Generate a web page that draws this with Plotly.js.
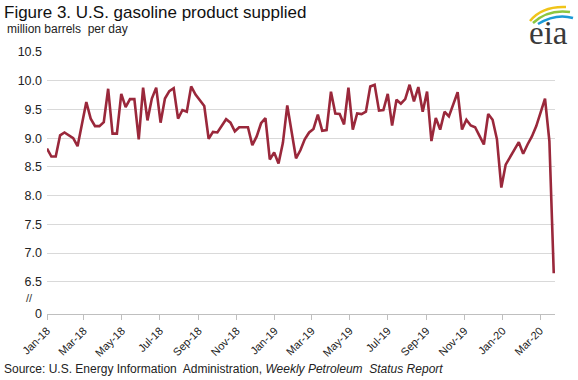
<!DOCTYPE html>
<html>
<head>
<meta charset="utf-8">
<script src="https://cdn.plot.ly/plotly-3.0.1.min.js"></script>
<style>html,body{margin:0;padding:0;background:#fff;}#chart{width:578px;height:380px;}</style>
</head>
<body>
<div id="chart"></div>
<script>
// Weekly dates (week ending)
const weeks = [
"2018-01-05","2018-01-12","2018-01-19","2018-01-26","2018-02-02","2018-02-09","2018-02-16","2018-02-23",
"2018-03-02","2018-03-09","2018-03-16","2018-03-23","2018-03-30","2018-04-06","2018-04-13","2018-04-20","2018-04-27",
"2018-05-04","2018-05-11","2018-05-18","2018-05-25","2018-06-01","2018-06-08","2018-06-15","2018-06-22","2018-06-29",
"2018-07-06","2018-07-13","2018-07-20","2018-07-27","2018-08-03","2018-08-10","2018-08-17","2018-08-24","2018-08-31",
"2018-09-07","2018-09-14","2018-09-21","2018-09-28","2018-10-05","2018-10-12","2018-10-19","2018-10-26",
"2018-11-02","2018-11-09","2018-11-16","2018-11-23","2018-11-30","2018-12-07","2018-12-14","2018-12-21","2018-12-28",
"2019-01-04","2019-01-11","2019-01-18","2019-01-25","2019-02-01","2019-02-08","2019-02-15","2019-02-22",
"2019-03-01","2019-03-08","2019-03-15","2019-03-22","2019-03-29","2019-04-05","2019-04-12","2019-04-19","2019-04-26",
"2019-05-03","2019-05-10","2019-05-17","2019-05-24","2019-05-31","2019-06-07","2019-06-14","2019-06-21","2019-06-28",
"2019-07-05","2019-07-12","2019-07-19","2019-07-26","2019-08-02","2019-08-09","2019-08-16","2019-08-23","2019-08-30",
"2019-09-06","2019-09-13","2019-09-20","2019-09-27","2019-10-04","2019-10-11","2019-10-18","2019-10-25",
"2019-11-01","2019-11-08","2019-11-15","2019-11-22","2019-11-29","2019-12-06","2019-12-13","2019-12-20","2019-12-27",
"2020-01-03","2020-01-10","2020-01-17","2020-01-24","2020-01-31","2020-02-07","2020-02-14","2020-02-21","2020-02-28",
"2020-03-06","2020-03-13","2020-03-20","2020-03-27"
];
// Gasoline product supplied, million barrels per day
const supplied = [
8.82,8.68,8.68,9.05,9.10,9.05,9.00,8.86,
9.25,9.63,9.34,9.21,9.21,9.28,9.86,9.08,9.08,
9.77,9.54,9.68,9.68,8.98,9.88,9.31,9.69,9.88,
9.27,9.69,9.82,9.87,9.34,9.49,9.46,9.90,9.76,
9.65,9.56,8.99,9.11,9.10,9.21,9.33,9.27,
9.12,9.19,9.19,9.19,8.88,9.03,9.26,9.35,8.63,
8.75,8.56,8.92,9.57,9.12,8.65,8.79,8.98,
9.10,9.16,9.41,9.13,9.14,9.81,9.43,9.42,9.24,
9.88,9.15,9.43,9.42,9.46,9.90,9.93,9.48,9.49,
9.77,9.22,9.67,9.60,9.68,9.93,9.64,9.89,9.46,
9.81,8.95,9.35,9.15,9.46,9.38,9.60,9.80,
9.15,9.32,9.22,9.19,9.04,8.89,9.42,9.32,8.98,
8.14,8.54,8.66,8.80,8.93,8.73,8.89,9.03,9.21,
9.44,9.69,8.95,6.65
];
// Y axis (broken: bottom gridline labelled 0)
const yTickVals = [5.94,6.5,7.0,7.5,8.0,8.5,9.0,9.5,10.0,10.5];
const yTickText = ["0","6.5","7.0","7.5","8.0","8.5","9.0","9.5","10.0","10.5"];

const W = 578, H = 380;
const M = {l:47, r:23, t:52, b:66};
const PW = W - M.l - M.r, PH = H - M.t - M.b;
const px = x => (x - M.l) / PW;
const py = y => (H - M.b - y) / PH;
const FONT = "Liberation Sans, Arial, sans-serif";

function arc(x0,y0,cx,cy,x1,y1){
  return `M ${px(x0)} ${py(y0)} Q ${px(cx)} ${py(cy)} ${px(x1)} ${py(y1)}`;
}

const trace = {
  x: weeks, y: supplied, type: 'scatter', mode: 'lines',
  line: {color: '#9a283b', width: 2.6},
  hoverinfo: 'skip'
};

const layout = {
  width: W, height: H,
  margin: M,
  paper_bgcolor: '#fff', plot_bgcolor: '#fff',
  showlegend: false,
  font: {family: FONT, color: '#222'},
  title: {
    text: 'Figure 3. U.S. gasoline product supplied',
    font: {family: FONT, size: 17, color: '#111'},
    x: 4/W, xanchor: 'left', xref: 'container',
    y: 1 - 12/H, yanchor: 'middle', yref: 'container'
  },
  xaxis: {
    type: 'date',
    range: ['2018-01-05', '2020-03-29'],
    tick0: '2018-01-05', dtick: 'M2',
    tickformat: '%b-%y',
    tickangle: -45,
    tickfont: {family: FONT, size: 11, color: '#222'},
    ticks: 'outside', ticklen: 5, tickcolor: '#bfbfbf', tickwidth: 1,
    showgrid: false, zeroline: false,
    showline: true, linecolor: '#bfbfbf', linewidth: 1
  },
  yaxis: {
    range: [5.94, 10.5],
    tickvals: yTickVals, ticktext: yTickText,
    tickfont: {family: FONT, size: 12.5, color: '#222'},
    showgrid: true, gridcolor: '#d9d9d9', gridwidth: 1,
    zeroline: false, showline: false, ticks: '',
    ticklabelstandoff: 4
  },
  annotations: [
    {text: 'million barrels  per day', xref: 'paper', yref: 'paper',
     x: px(5), y: py(29), xanchor: 'left', yanchor: 'middle', showarrow: false,
     font: {family: FONT, size: 12, color: '#222'}},
    {text: '//', xref: 'paper', yref: 'paper',
     x: px(29), y: py(298), xanchor: 'center', yanchor: 'middle', showarrow: false,
     font: {family: FONT, size: 11, color: '#333'}},
    {text: 'Source: U.S. Energy Information  Administration, <i>Weekly Petroleum  Status Report</i>',
     xref: 'paper', yref: 'paper', x: px(2), y: py(369), xanchor: 'left', yanchor: 'middle',
     showarrow: false, font: {family: FONT, size: 12, color: '#222'}},
    {text: 'eia', xref: 'paper', yref: 'paper', x: px(548), y: py(33),
     xanchor: 'center', yanchor: 'middle', showarrow: false,
     font: {family: 'Liberation Serif, Times New Roman, serif', size: 33, color: '#3a3a3a'}}
  ],
  shapes: [
    {type: 'path', xref: 'paper', yref: 'paper', path: arc(530,21,542,6,566,7), line: {color: '#f0c419', width: 2.5}},
    {type: 'path', xref: 'paper', yref: 'paper', path: arc(533,23,548,9,570,12), line: {color: '#8dc63f', width: 2.5}},
    {type: 'path', xref: 'paper', yref: 'paper', path: arc(538,24,556,13,573,18), line: {color: '#1b9ad6', width: 2.5}}
  ]
};

Plotly.newPlot('chart', [trace], layout, {displayModeBar: false, staticPlot: true});
</script>
</body>
</html>
